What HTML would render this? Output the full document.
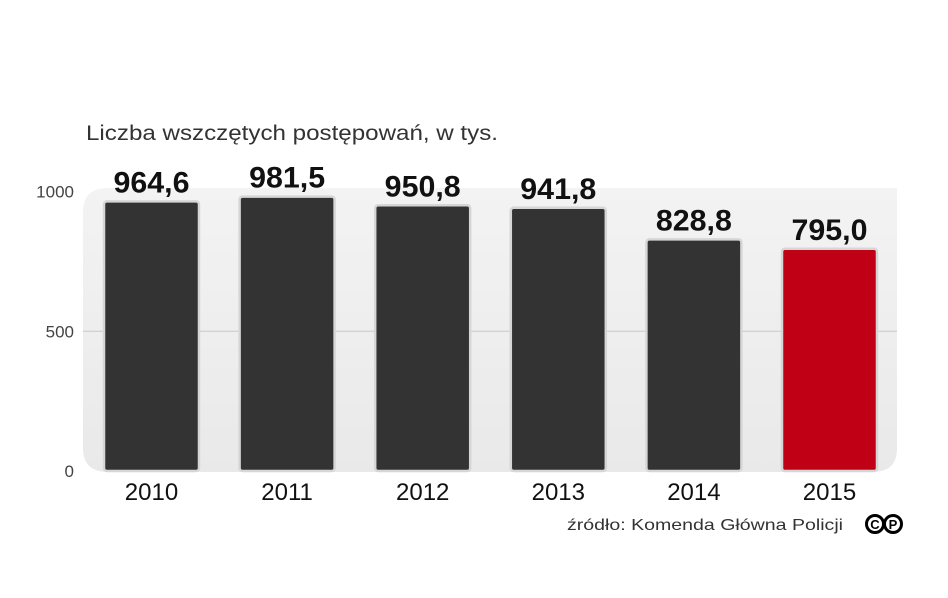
<!DOCTYPE html>
<html><head><meta charset="utf-8"><style>
body{margin:0;background:#fff;width:948px;height:593px;overflow:hidden;font-family:"Liberation Sans",sans-serif}
</style></head><body>
<svg id="chart" width="948" height="593" xmlns="http://www.w3.org/2000/svg">
<defs><linearGradient id="bg" x1="0" y1="0" x2="0" y2="1"><stop offset="0" stop-color="#f3f3f3"/><stop offset="1" stop-color="#e9e9e9"/></linearGradient></defs>
<text x="86" y="140" font-size="21" fill="#333" textLength="412" lengthAdjust="spacingAndGlyphs">Liczba wszczętych postępowań, w tys.</text>
<path d="M108,188 H897 V448 Q897,472 873,472 H108 Q83,472 83,448 V212 Q83,188 108,188 Z" fill="url(#bg)"/>
<g id="grid"></g><g id="bars"></g>
<text x="567" y="530" font-size="16" fill="#333" textLength="276" lengthAdjust="spacingAndGlyphs">źródło: Komenda Główna Policji</text>
<g font-size="13" font-weight="bold" text-anchor="middle">
<circle cx="875" cy="524" r="8.5" fill="none" stroke="#000" stroke-width="3"/><text x="875" y="529">C</text>
<circle cx="893" cy="524" r="8.5" fill="none" stroke="#000" stroke-width="3"/><text x="893" y="529">P</text></g>
</svg>
<script>
const categories=["2010","2011","2012","2013","2014","2015"];
const values=[964.6,981.5,950.8,941.8,828.8,795.0];
const valueLabels=["964,6","981,5","950,8","941,8","828,8","795,0"];
const ticks=[0,500,1000];
const NS="http://www.w3.org/2000/svg";
const y0=471,k=0.2795;
const y=v=>y0-v*k;
const x=i=>104+i*135.6;
const bw=95;
const g=document.getElementById('grid'),b=document.getElementById('bars');
function mk(tag,attrs,parent){const e=document.createElementNS(NS,tag);for(const a in attrs)e.setAttribute(a,attrs[a]);parent.appendChild(e);return e;}
ticks.forEach(t=>{
 if(t>0&&t<1000){const l=mk('line',{x1:83,x2:897,y1:y(t),y2:y(t),stroke:'#c8c8c8','stroke-width':1},g);
 
 }
 const tx=mk('text',{x:74,y:y(t)+6,'text-anchor':'end','font-size':17,fill:'#444'},g);
 tx.textContent=t;
 
 
});
categories.forEach((c,i)=>{
 const r=mk('rect',{x:x(i),y:y(values[i]),width:bw,height:y0-y(values[i]),rx:3,fill:i==5?'#c00015':'#333',stroke:'#d6d6d6','stroke-width':2.5},b);
 
 
 const v=mk('text',{x:x(i)+bw/2,y:y(values[i])-9,'text-anchor':'middle','font-size':30,'font-weight':'bold',fill:'#111',textLength:76,lengthAdjust:'spacingAndGlyphs'},b);
 v.textContent=valueLabels[i];
 
 
 const t=mk('text',{x:x(i)+bw/2,y:500,'text-anchor':'middle','font-size':24,fill:'#111'},b);
 t.textContent=c;
 
 
});
</script>
</body></html>
